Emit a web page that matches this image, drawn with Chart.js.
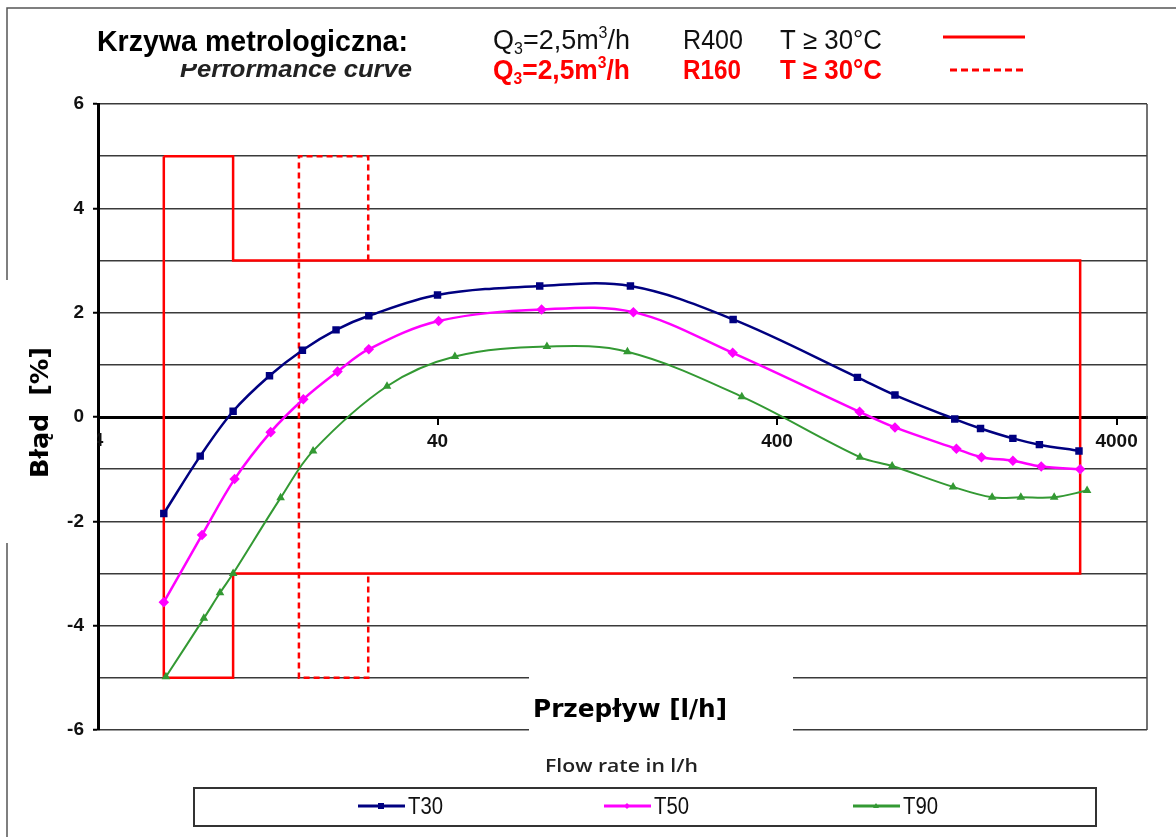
<!DOCTYPE html>
<html>
<head>
<meta charset="utf-8">
<script src="https://cdn.jsdelivr.net/npm/chart.js@4/dist/chart.umd.min.js"></script>
<style>
	html, body { margin: 0; padding: 0; background: #fff; }
	canvas { display: block; }
</style>
</head>
<body>
<canvas id="krzywa" width="1176" height="837"></canvas>
<script>
// values
var xTicks = [4, 40, 400, 4000];
var yTicks = [-6, -4, -2, 0, 2, 4, 6];

var flowT30 = [6.25, 8.0, 10.0, 12.8, 16.0, 20.1, 25.1, 40, 80, 148, 297, 690, 890, 1335, 1590, 1980, 2370, 3100];
var errT30  = [-1.85, -0.75, 0.11, 0.79, 1.28, 1.67, 1.94, 2.34, 2.51, 2.51, 1.87, 0.76, 0.42, -0.04, -0.22, -0.41, -0.53, -0.65];

var flowT50 = [6.25, 8.1, 10.1, 12.9, 16.1, 20.3, 25.1, 40.3, 81, 151, 296, 700, 890, 1350, 1600, 1980, 2400, 3125];
var errT50  = [-3.55, -2.26, -1.19, -0.29, 0.34, 0.87, 1.30, 1.84, 2.06, 2.01, 1.23, 0.10, -0.20, -0.61, -0.77, -0.84, -0.95, -1.00];

var flowT90 = [6.34, 8.2, 9.15, 10.0, 13.8, 17.2, 28.4, 45, 84, 145, 315, 702, 873, 1320, 1720, 2090, 2620, 3275];
var errT90  = [-4.98, -3.86, -3.37, -3.0, -1.55, -0.65, 0.59, 1.16, 1.35, 1.25, 0.39, -0.77, -0.94, -1.34, -1.54, -1.54, -1.54, -1.41];

// limit curves (Q1, Q2, Q4 for Q3 = 2,5 m3/h)
var limitR400Flow = [6.25, 10, 10, 3125, 3125, 10, 10, 6.25, 6.25];
var limitR400Err  = [5, 5, 3, 3, -3, -3, -5, -5, 5];
var limitR160Flow = [25, 25, 15.625, 15.625, 25, 25];
var limitR160Err  = [3, 5, 5, -5, -5, -3];

function pts(xs, ys) {
	return xs.map(function (x, i) { return { x: x, y: ys[i] }; });
}

function fitText(ctx, text, x, y, w, font, color) {
	ctx.save();
	ctx.font = font;
	ctx.fillStyle = color;
	ctx.textBaseline = 'alphabetic';
	ctx.textAlign = 'left';
	var m = ctx.measureText(text).width;
	ctx.translate(x, y);
	ctx.scale(w / m, 1);
	ctx.fillText(text, 0, 0);
	ctx.restore();
}

// Q3=2,5m3/h with sub/superscript
function drawQ3(ctx, x, y, w, weight, color) {
	var big = weight + ' 27px "Liberation Sans Narrow", "Liberation Sans", Arial, sans-serif';
	var small = weight + ' 16px "Liberation Sans Narrow", "Liberation Sans", Arial, sans-serif';
	var parts = [
		{ t: 'Q', f: big, dy: 0 },
		{ t: '3', f: small, dy: 5 },
		{ t: '=2,5m', f: big, dy: 0 },
		{ t: '3', f: small, dy: -11 },
		{ t: '/h', f: big, dy: 0 }
	];
	ctx.save();
	var total = 0;
	parts.forEach(function (p) { ctx.font = p.f; p.w = ctx.measureText(p.t).width; total += p.w; });
	ctx.translate(x, y);
	ctx.scale(w / total, 1);
	ctx.fillStyle = color;
	var cx = 0;
	parts.forEach(function (p) {
		ctx.font = p.f;
		ctx.fillText(p.t, cx, p.dy);
		cx += p.w;
	});
	ctx.restore();
}

function marker(ctx, style, x, y, r, color) {
	ctx.save();
	ctx.fillStyle = color;
	ctx.beginPath();
	if (style === 'rect') {
		ctx.rect(x - r, y - r, 2 * r, 2 * r);
	} else if (style === 'rectRot') {
		ctx.moveTo(x, y - r); ctx.lineTo(x + r, y); ctx.lineTo(x, y + r); ctx.lineTo(x - r, y);
		ctx.closePath();
	} else {
		ctx.moveTo(x, y - r); ctx.lineTo(x + r, y + r * 0.7); ctx.lineTo(x - r, y + r * 0.7);
		ctx.closePath();
	}
	ctx.fill();
	ctx.restore();
}

var NARROW = '"Liberation Sans Narrow", "Liberation Sans", Arial, sans-serif';

var decorPlugin = {
	id: 'decor',
	beforeDraw: function (chart) {
		var ctx = chart.ctx;
		ctx.save();
		ctx.fillStyle = '#fff';
		ctx.fillRect(0, 0, chart.width, chart.height);
		// outer frame
		ctx.strokeStyle = '#555';
		ctx.lineWidth = 1.5;
		ctx.beginPath();
		ctx.moveTo(7, chart.height);
		ctx.lineTo(7, 8);
		ctx.lineTo(chart.width, 8);
		ctx.stroke();
		ctx.restore();
	},
	afterDraw: function (chart) {
		var ctx = chart.ctx;
		var a = chart.chartArea;
		ctx.save();

		// right border of plot area
		ctx.strokeStyle = '#444';
		ctx.lineWidth = 1.5;
		ctx.beginPath();
		ctx.moveTo(a.right, a.top);
		ctx.lineTo(a.right, a.bottom);
		ctx.stroke();

		// clipped "4" tick label
		var xs = chart.scales.x;
		ctx.save();
		ctx.beginPath();
		ctx.rect(97, 420, 20, 30);
		ctx.clip();
		ctx.font = 'bold 19px "Liberation Sans", Arial, sans-serif';
		ctx.fillStyle = '#111';
		ctx.textAlign = 'center';
		ctx.textBaseline = 'top';
		ctx.fillText('4', xs.getPixelForValue(4), 431);
		ctx.restore();

		// header
		fitText(ctx, 'Krzywa metrologiczna:', 97, 51, 311, 'bold 30px ' + NARROW, '#000');
		ctx.save();
		ctx.beginPath();
		ctx.rect(170, 64, 260, 30);
		ctx.clip();
		fitText(ctx, 'Performance curve', 180, 77, 232, 'italic bold 24px ' + NARROW, '#222');
		ctx.restore();

		drawQ3(ctx, 493, 49, 137, 'normal', '#111');
		fitText(ctx, 'R400', 683, 49, 60, 'normal 27px ' + NARROW, '#111');
		fitText(ctx, 'T \u2265 30\u00B0C', 780, 49, 102, 'normal 27px ' + NARROW, '#111');

		drawQ3(ctx, 493, 79, 137, 'bold', '#ff0000');
		fitText(ctx, 'R160', 683, 79, 58, 'bold 27px ' + NARROW, '#ff0000');
		fitText(ctx, 'T \u2265 30\u00B0C', 780, 79, 102, 'bold 27px ' + NARROW, '#ff0000');

		ctx.strokeStyle = '#ff0000';
		ctx.lineWidth = 3;
		ctx.beginPath();
		ctx.moveTo(943, 37); ctx.lineTo(1025, 37);
		ctx.stroke();
		ctx.setLineDash([7, 4]);
		ctx.beginPath();
		ctx.moveTo(950, 70); ctx.lineTo(1027, 70);
		ctx.stroke();
		ctx.setLineDash([]);

		// y axis title with white box
		ctx.fillStyle = '#fff';
		ctx.fillRect(2, 280, 58, 263);
		ctx.save();
		ctx.translate(48, 478);
		ctx.rotate(-Math.PI / 2);
		fitText(ctx, 'B\u0142\u0105d  [%]', 0, 0, 131, 'bold 24px "DejaVu Sans", sans-serif', '#000');
		ctx.restore();

		// x axis title with white box
		ctx.fillStyle = '#fff';
		ctx.fillRect(529, 675, 264, 59);
		fitText(ctx, 'Przep\u0142yw [l/h]', 533, 717, 194, 'bold 25px "DejaVu Sans", sans-serif', '#000');
		fitText(ctx, 'Flow rate in l/h', 545, 772, 153, '600 18px "Open Sans", sans-serif', '#222');

		// legend box
		ctx.strokeStyle = '#333';
		ctx.lineWidth = 2;
		ctx.strokeRect(194, 788, 902, 38);
		var legendX = [358, 604, 853];
		var styles = ['rect', 'rectRot', 'triangle'];
		for (var i = 0; i < 3; i++) {
			var ds = chart.data.datasets[i];
			var lx = legendX[i];
			ctx.strokeStyle = ds.borderColor;
			ctx.lineWidth = 3;
			ctx.beginPath();
			ctx.moveTo(lx, 806); ctx.lineTo(lx + 47, 806);
			ctx.stroke();
			marker(ctx, styles[i], lx + 23, 806, 3, ds.borderColor);
			fitText(ctx, ds.label, lx + 50, 814, 35, 'normal 24px ' + NARROW, '#111');
		}

		ctx.restore();
	}
};

var ctx = document.getElementById('krzywa').getContext('2d');
new Chart(ctx, {
	type: 'line',
	data: {
		datasets: [
			{ label: 'T30', data: pts(flowT30, errT30), borderColor: '#000080', backgroundColor: '#000080', borderWidth: 2.5, pointStyle: 'rect', pointRadius: 3.5, tension: 0.35 },
			{ label: 'T50', data: pts(flowT50, errT50), borderColor: '#ff00ff', backgroundColor: '#ff00ff', borderWidth: 2.5, pointStyle: 'rectRot', pointRadius: 3.5, tension: 0.35 },
			{ label: 'T90', data: pts(flowT90, errT90), borderColor: '#339933', backgroundColor: '#339933', borderWidth: 2, pointStyle: 'triangle', pointRadius: 3, tension: 0.35 },
			{ label: 'R400', data: pts(limitR400Flow, limitR400Err), borderColor: '#ff0000', borderWidth: 2.5, pointRadius: 0, tension: 0 },
			{ label: 'R160', data: pts(limitR160Flow, limitR160Err), borderColor: '#ff0000', borderWidth: 2.5, borderDash: [6, 4], pointRadius: 0, tension: 0 }
		]
	},
	options: {
		responsive: false,
		animation: false,
		layout: { padding: { left: 0, top: 104, right: 29, bottom: 107 } },
		plugins: { legend: { display: false }, tooltip: { enabled: false } },
		scales: {
			x: {
				type: 'logarithmic',
				min: 4,
				max: 4917,
				position: { y: 0 },
				afterBuildTicks: function (scale) {
					scale.ticks = xTicks.map(function (v) { return { value: v }; });
				},
				ticks: {
					autoSkip: false,
					maxRotation: 0,
					padding: 7,
					color: '#111',
					font: { family: '"Liberation Sans", Arial, sans-serif', size: 19, weight: 'bold' },
					callback: function (v) { return v === 4 ? '' : String(v); }
				},
				grid: { drawOnChartArea: false, drawTicks: true, tickLength: 6, color: '#000', lineWidth: 2 },
				border: { display: true, color: '#000', width: 3 }
			},
			y: {
				type: 'linear',
				min: -6,
				max: 6,
				afterFit: function (scale) { scale.width = 98; },
				ticks: {
					stepSize: 1,
					padding: 9,
					color: '#111',
					font: { family: '"Liberation Sans", Arial, sans-serif', size: 19, weight: 'bold' },
					callback: function (v) { return yTicks.indexOf(v) !== -1 ? String(v) : ''; }
				},
				grid: {
					color: '#3a3a3a',
					lineWidth: 1.5,
					tickLength: 5,
					tickWidth: 2,
					tickColor: function (c) { return c.tick && yTicks.indexOf(c.tick.value) !== -1 ? '#000' : 'rgba(0,0,0,0)'; }
				},
				border: { display: true, color: '#000', width: 3 }
			}
		}
	},
	plugins: [decorPlugin]
});
</script>
</body>
</html>
